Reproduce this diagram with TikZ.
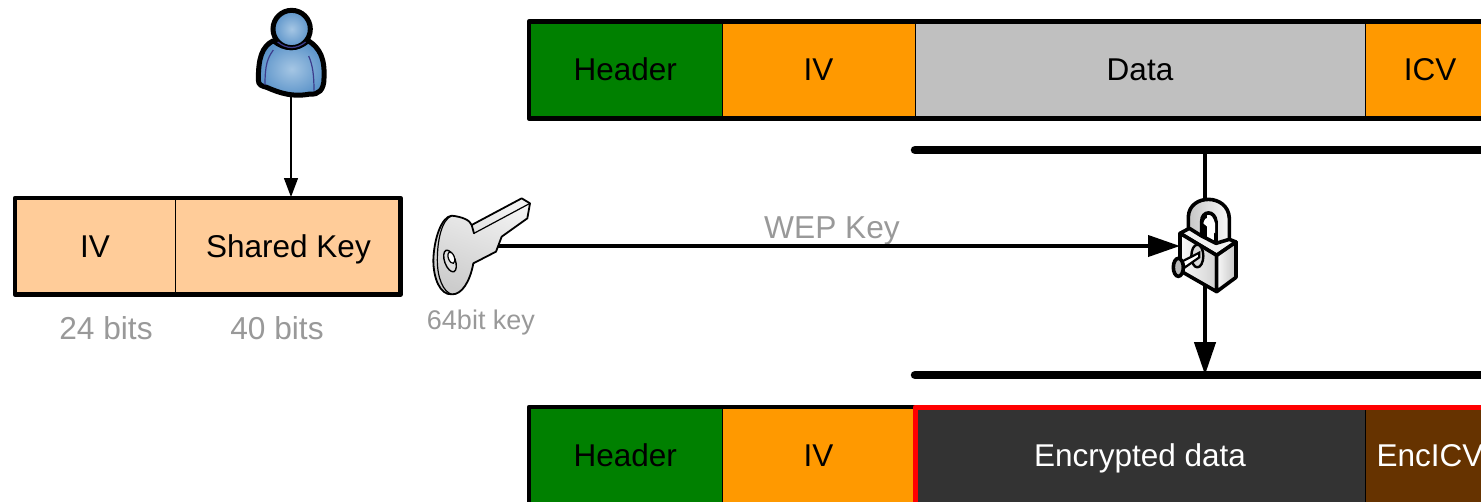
\documentclass[tikz,border=0pt]{standalone}
\usepackage{fontspec}
\setmainfont{Liberation Sans}
\usetikzlibrary{arrows.meta}
\definecolor{cgreen}{HTML}{008000}
\definecolor{corange}{HTML}{FF9900}
\definecolor{cgray}{HTML}{C0C0C0}
\definecolor{cdark}{HTML}{333333}
\definecolor{cbrown}{HTML}{663300}
\definecolor{cpeach}{HTML}{FFCC99}
\definecolor{clabel}{HTML}{999999}
\definecolor{cblue}{HTML}{5B93C9}
\definecolor{cbluelt}{HTML}{A5C6E4}
\definecolor{cpurple}{HTML}{3C3C8C}
\tikzset{
  cell/.style={draw=black,line width=1pt,inner sep=0pt,minimum height=97pt,text height=22.5pt,text depth=0pt,font=\fontsize{31.5}{32}\selectfont,text=black},
  outline/.style={draw=black,line width=4.5pt,line join=round},
  lbl/.style={text=clabel,inner sep=0pt,text height=22.5pt,text depth=0pt,font=\fontsize{31.7}{32}\selectfont},
  smalllbl/.style={text=clabel,inner sep=0pt,text height=19pt,text depth=0pt,font=\fontsize{27}{27}\selectfont},
  thinarrow/.style={draw=black,line width=1.3pt,-{Triangle[length=19pt,width=14pt]}},
  thickarrow/.style={draw=black,line width=4.5pt,-{Triangle[length=33pt,width=21pt]}},
  keyarrow/.style={draw=black,line width=4pt,-{Triangle[length=32pt,width=21pt]}},
  bar/.style={draw=black,line width=8.5pt,line cap=round},
  ico/.style={draw=black,line width=3.6pt,line join=round},
}
\begin{document}
\begin{tikzpicture}[x=1pt,y=-1pt]
\useasboundingbox (0,0) rectangle (1481,501);
\clip (0,0) rectangle (1481,501);
% top frame
\node[cell,fill=cgreen,minimum width=193.5pt] (th) at (625.3,69.5) {Header};
\node[cell,fill=corange,minimum width=193pt] (tiv) at (818.5,69.5) {IV};
\node[cell,fill=cgray,minimum width=450pt] (td) at (1140,69.5) {Data};
\node[cell,fill=corange,minimum width=130pt] (ti) at (1430,69.5) {ICV};
\draw[outline] (529,21.5) rectangle (1600,118.3);
% bottom frame
\node[cell,fill=cgreen,minimum width=193.5pt] (bh) at (625.3,455.5) {Header};
\node[cell,fill=corange,minimum width=193pt] (biv) at (818.5,455.5) {IV};
\node[cell,fill=cdark,text=white,minimum width=450pt] (bd) at (1140,455.5) {Encrypted data};
\node[cell,fill=cbrown,text=white,minimum width=130pt] (bi) at (1430,455.5) {EncICV};
\draw[outline] (529,407) rectangle (1600,600);
\draw[draw=red,line width=5pt,line join=round] (915,600) -- (915,407) -- (1600,407);
% key block
\node[cell,fill=cpeach,minimum width=161pt] (kiv) at (95,246.5) {IV};
\node[cell,fill=cpeach,minimum width=226pt] (ksk) at (288.5,246.5) {Shared Key};
\draw[outline] (15,198) rectangle (400.5,294.5);
\node[lbl] (l24) at (106,328) {24 bits};
\node[lbl] (l40) at (277,328) {40 bits};
\node[smalllbl] (l64) at (481,320) {64bit key};
\node[lbl] (lwep) at (832,227) {WEP Key};
% bars
\coordinate (barTl) at (915,150); \coordinate (barTr) at (1600,150);
\coordinate (barBl) at (915,375); \coordinate (barBr) at (1600,375);
\coordinate (barTm) at (1205,150); \coordinate (barBm) at (1205,375);
\draw[bar] (barTl) -- (barTr);
\draw[bar] (barBl) -- (barBr);
\draw[thickarrow] (barTm) -- (barBm);
% connectors
\coordinate (personS) at (291,95);
\coordinate (keyE) at (497,246);
\coordinate (lockW) at (1180,246);
\draw[thinarrow] (personS) -- (291,197);
\draw[keyarrow] (keyE) -- (lockW);
% person
\begin{scope}[shift={(230,0)},scale=1/3]
  \path[draw=black,line width=5pt,line join=round,inner color=cbluelt,outer color=cblue]
    (130,122) .. controls (95,140) and (85,175) .. (85,240)
    .. controls (85,255) and (95,258) .. (110,262)
    .. controls (150,280) and (190,292) .. (240,282)
    .. controls (265,285) and (282,270) .. (282,235)
    .. controls (285,175) and (270,145) .. (235,122)
    .. controls (200,150) and (165,150) .. (130,122) -- cycle;
  \path[draw=black,line width=5pt,inner color=cbluelt,outer color=cblue] (185,87) circle[x radius=56,y radius=56];
  \draw[cpurple,line width=1.2pt] (130,150) .. controls (112,175) and (105,195) .. (105,255);
  \draw[cpurple,line width=1.2pt] (236,168) .. controls (248,195) and (252,225) .. (252,272);
  \draw[cpurple,line width=1.2pt] (143,126) .. controls (170,148) and (200,148) .. (227,126);
\end{scope}
% key
\begin{scope}[shift={(420,185)},scale=1/3]
  \path[draw=black,line width=1.8pt,line join=round,top color=white!90!gray,bottom color=white!60!gray,shading angle=-20]
    (155,120) -- (305,40) -- (330,55) -- (322,100) -- (245,155) -- (228,200) -- (160,235)
    .. controls (150,290) and (125,330) .. (95,328)
    .. controls (60,330) and (40,280) .. (40,225)
    .. controls (42,160) and (65,95) .. (95,92)
    .. controls (125,95) and (150,105) .. (155,120) -- (162,145) -- cycle;
  \draw[black,line width=1.2pt] (162,145) -- (330,55);
  \draw[black,line width=1.2pt] (95,92) .. controls (65,105) and (52,165) .. (52,225)
     .. controls (52,280) and (70,320) .. (95,328);
  \path[draw=black,line width=1.4pt,fill=white!75!gray,rotate around={20:(90,228)}] (90,228) circle[x radius=16,y radius=34];
  \path[draw=black,line width=1.2pt,fill=white,rotate around={20:(94,218)}] (94,218) circle[x radius=9,y radius=18];
\end{scope}
% lock
\begin{scope}[shift={(1150,180)},scale=1/3]
  \path[ico,left color=white!55!gray,right color=white!95!gray]
    (115,165) -- (115,110) .. controls (118,40) and (235,40) .. (238,115) -- (238,190) -- (198,205) -- (198,125)
    .. controls (195,90) and (155,90) .. (155,125) -- (155,180) -- cycle;
  \path[fill=white] (160,130) .. controls (165,105) and (190,105) .. (195,130) -- (195,160) -- cycle;
  \path[ico,fill=white!88!gray] (90,160) -- (118,145) -- (155,168) -- (198,190) -- (238,178) -- (258,186) -- (200,226) -- cycle;
  \path[ico,left color=white!95!gray,right color=white!65!gray] (90,160) -- (200,226) -- (200,335) -- (90,272) -- cycle;
  \path[ico,left color=white!95!gray,right color=white!55!gray] (200,226) -- (258,186) -- (258,292) -- (200,335) -- cycle;
  \path[ico,line width=2.4pt,fill=white!70!gray] (142,228) circle[x radius=18,y radius=34];
  \path[draw=black,line width=2.2pt,fill=white] (95,245) -- (148,218) -- (148,232) -- (105,262) -- cycle;
  \path[draw=black,line width=3.6pt,fill=white!45!gray] (85,262) circle[x radius=15,y radius=27];
\end{scope}
\end{tikzpicture}
\end{document}
